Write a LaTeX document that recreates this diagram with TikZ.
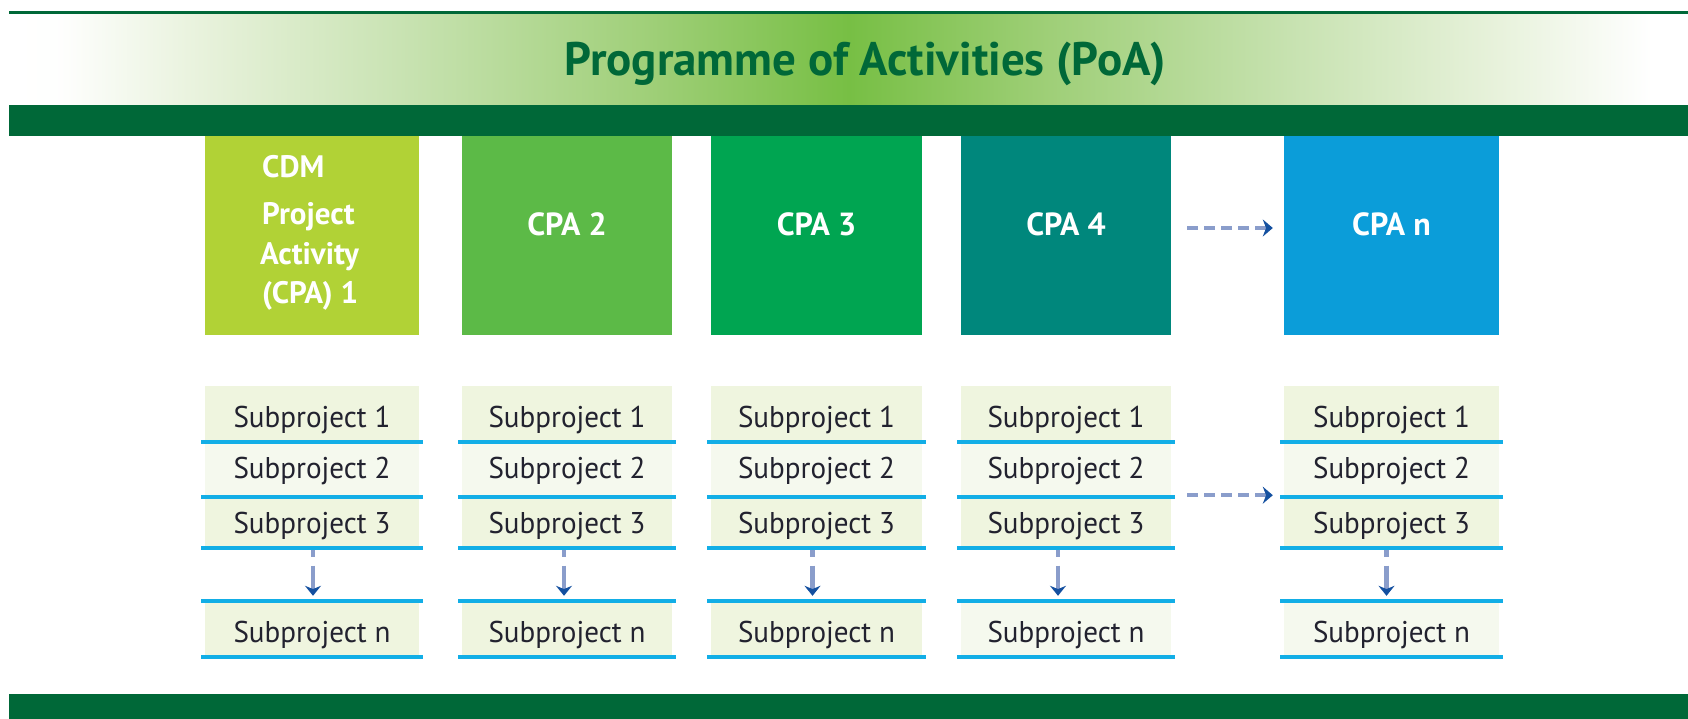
\documentclass[tikz,border=0pt]{standalone}
\usepackage{fontspec}
\setmainfont{PT Sans}[FakeStretch=0.97]
\newfontfamily\widefont{PT Sans}
\usetikzlibrary{arrows.meta,calc}
\definecolor{dkgreen}{HTML}{006838}
\definecolor{cpaA}{HTML}{B1D236}
\definecolor{cpaB}{HTML}{5CBA47}
\definecolor{cpaC}{HTML}{00A551}
\definecolor{cpaD}{HTML}{00877C}
\definecolor{cpaN}{HTML}{0B9DD9}
\definecolor{rowA}{HTML}{EFF5DF}
\definecolor{rowB}{HTML}{F5F9EE}
\definecolor{sky}{HTML}{12AEE6}
\definecolor{subtext}{HTML}{22222F}
\definecolor{arrshaft}{HTML}{8A9DCB}
\definecolor{arrhead}{HTML}{1450A0}
\definecolor{gA}{HTML}{E8F2DC}
\definecolor{gB}{HTML}{C9E3B3}
\definecolor{gC}{HTML}{9FCF78}
\definecolor{gD}{HTML}{77BF44}
\pgfdeclarehorizontalshading{poa}{100bp}{color(0bp)=(white); color(25bp)=(white); color(26.5bp)=(white!96!gA); color(30.7bp)=(gA); color(36.6bp)=(gB); color(44.1bp)=(gC); color(50bp)=(gD); color(56bp)=(gC); color(63.5bp)=(gB); color(69.4bp)=(gA); color(73.9bp)=(white); color(75bp)=(white); color(100bp)=(white)}
\tikzset{
  cpabox/.style={draw=none, minimum height=199pt, inner sep=0pt},
  cpatext/.style={text=white, font=\widefont\bfseries\fontsize{32}{38}\selectfont, inner sep=0pt, anchor=base},
  cpaleft/.style={text=white, font=\widefont\bfseries\fontsize{31}{38}\selectfont, inner sep=0pt, anchor=base west},
  subrow/.style={draw=none, inner sep=0pt},
  subtxt/.style={text=subtext, font=\fontsize{30}{36}\selectfont, inner sep=0pt, anchor=base},
  harrow/.style={draw=arrshaft, line width=4.5pt, dash pattern=on 11pt off 6pt, -{Stealth[length=10pt,width=17pt,color=arrhead,fill=arrhead]}},
  varrow/.style={draw=arrshaft, line width=4.5pt, dash pattern=on 7pt off 9pt on 60pt off 0pt, -{Stealth[length=10pt,width=16pt,color=arrhead,fill=arrhead]}},
  titletext/.style={text=dkgreen, font=\widefont\bfseries\fontsize{47}{52}\selectfont, inner sep=0pt, anchor=base}
}
\begin{document}
\begin{tikzpicture}[x=1pt,y=-1pt]
\useasboundingbox (0,0) rectangle (1688,719);
% header
\fill[dkgreen] (9,11) rectangle (1688,15);
\shade[shading=poa] (9,15) rectangle (1688,105);
\fill[dkgreen] (9,105) rectangle (1688,136);
\fill[dkgreen] (9,694) rectangle (1688,719);
\node[titletext] (title) at (865,76) {Programme of Activities (PoA)};
% CPA boxes
\node[cpabox, fill=cpaA, minimum width=214pt] (b1) at (312,235.5) {};
\node[cpabox, fill=cpaB, minimum width=210pt] (b2) at (567,235.5) {};
\node[cpabox, fill=cpaC, minimum width=211pt] (b3) at (816.5,235.5) {};
\node[cpabox, fill=cpaD, minimum width=210pt] (b4) at (1066,235.5) {};
\node[cpabox, fill=cpaN, minimum width=215pt] (bn) at (1391.5,235.5) {};
\node[cpaleft] (t1a) at (262,178) {CDM};
\node[cpaleft] (t1b) at (262,225) {Project};
\node[cpaleft] (t1c) at (260,265) {Activity};
\node[cpaleft] (t1d) at (262,303) {(CPA) 1};
\node[cpatext] (t2) at (567,236) {CPA 2};
\node[cpatext] (t3) at (816.5,236) {CPA 3};
\node[cpatext] (t4) at (1066,236) {CPA 4};
\node[cpatext] (tn) at (1391.5,236) {CPA n};
\draw[harrow] ([xshift=16pt,yshift=7.5pt]b4.east) -- ([xshift=-11pt,yshift=7.5pt]bn.west);
% subproject columns
\foreach \c/\x/\w/\nf/\ao in {1/312/214/rowA/1, 2/567/210/rowA/-3, 3/816.5/211/rowA/-4, 4/1066/210/rowB/-8, n/1391.5/215/rowB/-5}{
  \node[subrow, fill=rowA, minimum width=\w pt, minimum height=54pt] (c\c r1) at (\x,413) {};
  \node[subrow, fill=rowB, minimum width=\w pt, minimum height=51.5pt] (c\c r2) at (\x,469.25) {};
  \node[subrow, fill=rowA, minimum width=\w pt, minimum height=47pt] (c\c r3) at (\x,522.5) {};
  \node[subrow, fill=\nf, minimum width=\w pt, minimum height=52pt] (c\c rn) at (\x,629) {};
  \fill[sky] ([xshift=-4pt]c\c r1.south west) rectangle ([xshift=4pt,yshift=-3.5pt]c\c r1.south east);
  \fill[sky] ([xshift=-4pt]c\c r2.south west) rectangle ([xshift=4pt,yshift=-4pt]c\c r2.south east);
  \fill[sky] ([xshift=-4pt]c\c r3.south west) rectangle ([xshift=4pt,yshift=-3.5pt]c\c r3.south east);
  \fill[sky] ([xshift=-4pt,yshift=3.5pt]c\c rn.north west) rectangle ([xshift=4pt]c\c rn.north east);
  \fill[sky] ([xshift=-4pt]c\c rn.south west) rectangle ([xshift=4pt,yshift=-4pt]c\c rn.south east);
  \node[subtxt] (s\c a) at (\x,427) {Subproject 1};
  \node[subtxt] (s\c b) at (\x,478) {Subproject 2};
  \node[subtxt] (s\c c) at (\x,533) {Subproject 3};
  \node[subtxt] (s\c n) at (\x,642) {Subproject n};
  \draw[varrow] ([xshift=\ao pt,yshift=-3.5pt]c\c r3.south) -- ([xshift=\ao pt,yshift=7pt]c\c rn.north);
}
\draw[harrow] ([xshift=16pt]c4r2.south east) -- ([xshift=-11pt]cnr2.south west);
\end{tikzpicture}
\end{document}
